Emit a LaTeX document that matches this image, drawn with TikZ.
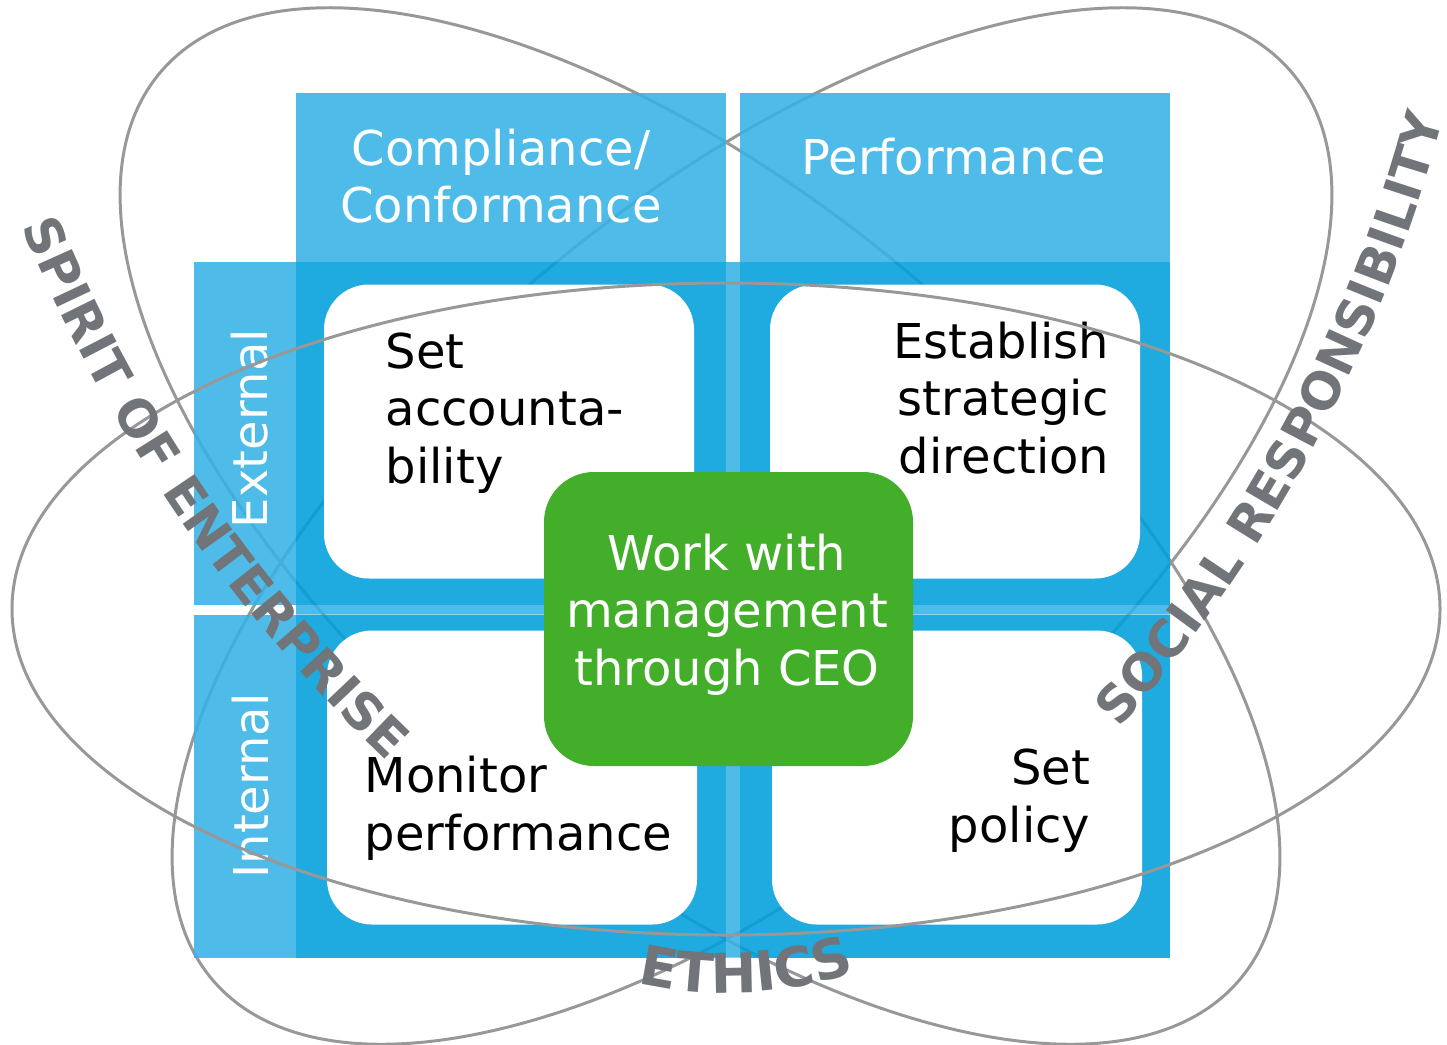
\documentclass[tikz,border=0pt]{standalone}
\usepackage{fontspec}
\setmainfont{DejaVu Sans}
\usetikzlibrary{positioning,decorations.text}

\definecolor{lightblue}{RGB}{53,178,229}
\definecolor{darkblue}{RGB}{0,158,220}
\definecolor{leafgreen}{RGB}{67,174,42}
\definecolor{loopgray}{RGB}{152,152,152}
\definecolor{themegray}{RGB}{113,117,121}

\newcommand{\boxfont}{\fontsize{13.66}{16.3}\selectfont}
\newcommand{\themefont}{\fontsize{14.5}{14.5}\selectfont\bfseries\color{themegray}}
\newcommand{\ethicsfont}{\fontsize{15.6}{15.6}\selectfont\bfseries\color{themegray}}

\begin{document}
\begin{tikzpicture}
    \tikzset{
        Loop/.style={draw=loopgray, line width=0.85pt},
        Shade/.style={fill opacity=0.88, inner sep=0pt, outer sep=0pt},
        Header/.style={Shade, fill=lightblue, minimum width=4.30cm, minimum height=1.69cm},
        Side/.style={Shade, fill=lightblue, minimum width=1.02cm, minimum height=3.43cm},
        Panel/.style={Shade, fill=darkblue, minimum width=4.30cm, minimum height=3.43cm},
        Task/.style={fill=white, rounded corners=0.45cm, inner sep=0pt, minimum width=3.70cm, minimum height=2.94cm},
        Core/.style={fill=leafgreen, rounded corners=0.5cm, inner sep=0pt, minimum width=3.69cm, minimum height=2.94cm},
        Label/.style={inner sep=0pt, font=\boxfont},
        Theme/.style 2 args={decorate, decoration={text along path, text align=center, text={|#1|#2}}},
    }
    \useasboundingbox (0,0) rectangle (14.47,10.44);

    % the two tilted loops sit under the panels
    \draw[Loop, rotate around={-40:(7.00,5.18)}] (7.00,5.18) ellipse [x radius=7.05, y radius=3.28];
    \draw[Loop, rotate around={40:(7.52,5.18)}] (7.52,5.18) ellipse [x radius=7.05, y radius=3.28];

    % headers and row labels
    \node[Header] (comp) at (5.11,8.665) {};
    \node[Header] (perf) at (9.55,8.665) {};
    \node[Side] (ext) at (2.45,6.105) {};
    \node[Side] (int) at (2.45,2.58) {};

    % quadrants
    \node[Panel] (pTL) at (5.11,6.105) {};
    \node[Panel] (pTR) at (9.55,6.105) {};
    \node[Panel] (pBL) at (5.11,2.58) {};
    \node[Panel] (pBR) at (9.55,2.58) {};
    \fill[lightblue, fill opacity=0.88] (pBL.south east) rectangle (pTR.north west)
        (pBL.north west) rectangle (pTR.south east);

    \node[Task] (acc) at (5.09,6.125) {};
    \node[Task] (dir) at (9.55,6.125) {};
    \node[Task] (mon) at (5.12,2.665) {};
    \node[Task] (pol) at (9.57,2.665) {};
    \node[Core] (ceo) at (7.285,4.25) {};

    % texts (base = last line)
    \node[Label, white, align=center, anchor=base] (compTxt) at (5.01,8.213) {Compliance/\\Conformance};
    \node[Label, white, anchor=base] (perfTxt) at (9.535,8.70) {Performance};
    \node[Label, white, rotate=90, anchor=base] (extTxt) at (2.67,6.155) {External};
    \node[Label, white, rotate=90, anchor=base] (intTxt) at (2.68,2.58) {Internal};
    \node[Label, align=left, anchor=base west] (accTxt) at (3.85,5.61) {Set\\accounta-\\bility};
    \node[Label, align=right, anchor=base east] (dirTxt) at (11.10,5.71) {Establish\\strategic\\direction};
    \node[Label, align=left, anchor=base west] (monTxt) at (3.64,1.94) {Monitor\\performance};
    \node[Label, align=right, anchor=base east] (polTxt) at (10.91,2.02) {Set\\policy};
    \node[Label, white, align=center, anchor=base] (ceoTxt) at (7.27,3.59) {Work with\\management\\through CEO};

    % the wide loop runs over everything
    \draw[Loop] (7.26,4.35) ellipse [x radius=7.14, y radius=3.26];

    % loop names
    \path[Theme={\themefont}{SPIRIT OF ENTERPRISE}] ([shift={(184.35:15.32)}]14.41,13.95)
        arc[start angle=184.35, end angle=244.35, radius=15.32];
    \path[Theme={\themefont}{SOCIAL RESPONSIBILITY}] ([shift={(-58:15.25)}]-0.30,13.18)
        arc[start angle=-58, end angle=2, radius=15.25];
    \path[Theme={\ethicsfont}{ETHICS}] ([shift={(243:4.02)}]7.26,4.53)
        arc[start angle=243, end angle=303, radius=4.02];
\end{tikzpicture}
\end{document}
